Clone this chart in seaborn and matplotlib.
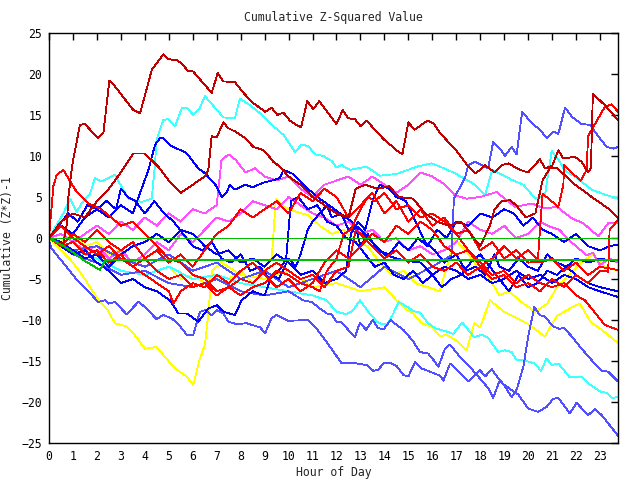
import matplotlib
matplotlib.use("Agg")
import matplotlib.pyplot as plt
import pandas as pd
import seaborn as sns

# ---------------- data (hour of day, cumulative value) ----------------
dr1_h = [0, 0.3, 0.6, 0.74, 0.81, 0.97, 1.29, 1.5, 2.03, 2.27, 2.52, 2.75, 3.52, 3.8, 4.29, 4.77, 4.98, 5.33, 5.54,
         5.79, 6.02, 6.79, 7.04, 7.28, 7.76, 8.15, 8.46, 9.02, 9.29, 9.53, 9.78, 10.06, 10.27, 10.52, 10.78, 11.03,
         11.28, 12.0, 12.26, 12.49, 12.77, 13.01, 13.26, 13.95, 14.51, 14.75, 15.0, 15.25, 15.79, 16.04, 16.32,
         16.67, 16.94, 17.5, 17.78, 17.99, 18.2, 18.6, 18.9, 19.17, 19.66, 20.0, 20.49, 20.7, 21.0, 21.26, 21.47,
         21.95, 22.23, 22.5, 22.62, 22.7, 23.2, 23.75]
dr1_v = [0, -0.5, -0.6, 1.6, 5.0, 8.9, 13.8, 13.9, 12.2, 12.8, 19.2, 18.5, 15.6, 15.2, 20.5, 22.4, 21.8, 21.7, 21.3,
         20.4, 20.3, 17.7, 20.1, 19.1, 19.0, 17.6, 16.6, 15.4, 15.9, 15.0, 15.3, 14.3, 13.9, 13.5, 16.7, 15.7,
         16.7, 13.9, 15.6, 14.6, 14.5, 13.6, 14.3, 12.1, 10.7, 10.2, 14.1, 13.2, 14.3, 14.0, 12.8,
         11.7, 10.9, 8.7, 7.9, 8.3, 8.9, 8.0, 8.9, 9.1, 8.3, 8.0, 9.6, 8.5, 8.8, 10.7, 9.7,
         9.9, 9.3, 8.0, 8.5, 17.6, 16.2, 14.4]

dr2_h = [0, 0.5, 1, 1.5, 2, 2.5, 3, 3.52, 4.0, 4.56, 5, 5.5, 6, 6.5, 6.65, 6.79, 7.0, 7.28, 7.48, 7.76, 8.18, 8.53,
         8.88, 9.09, 9.36, 9.64, 10, 10.5, 11, 11.5, 12, 12.5, 12.8, 13.2, 13.7, 14.2, 14.6, 15.2, 15.7, 16.2, 16.7,
         17.2, 17.6, 18.0, 18.4, 18.6, 18.9, 19.24, 19.5, 19.9, 20.3, 20.6, 20.9, 21.2, 21.6, 21.95, 22.3, 22.65,
         23.0, 23.34, 23.75]
dr2_v = [0, 2.0, 3.0, 2.5, 4.5, 6.0, 8.0, 10.3, 10.3, 8.7, 7.0, 5.5, 6.5, 7.5, 8.3, 12.4, 12.3, 14.1, 13.4, 13.0,
         12.2, 11.1, 10.8, 10.3, 9.3, 8.7, 7.5, 6.5, 5.0, 4.0, 3.0, 2.5, 6.0, 6.5, 6.0, 6.3, 5.0, 4.8, 3.0, 2.0,
         1.5, 2.0, 0.5, -1.0, 1.5, 3.5, 4.5, 4.6, 4.0, 2.5, 3.0, 7.0, 8.5, 8.5, 7.5, 6.5, 5.8, 5.0, 4.3, 3.6, 2.4]

rd1_h = [0, 0.18, 0.32, 0.6, 1.09, 1.64, 2.13, 2.6, 3.0, 3.5, 4.0, 4.5, 5.0, 5.5, 6.0, 6.5, 7.0, 7.5, 8, 8.5, 9.0,
         9.5, 10, 10.5, 11, 11.3, 11.6, 12, 12.3, 12.6, 13, 13.3, 13.6, 14, 14.5, 15, 15.5, 16, 16.5, 17, 17.5,
         18, 18.5, 19, 19.5, 20, 20.5, 21, 21.5, 22, 22.37, 23.2, 23.75]
rd1_v = [0, 6.3, 7.7, 8.3, 5.9, 4.2, 3.6, 2.5, 1.5, 2.0, 0.5, -1.0, -2.5, -3.0, -4.5, -5.0, -6.5, -6.0, -7.0, -6.0,
         -5.5, -4.0, -4.5, -5.5, -6.0, -6.5, -4.0, -2.5, 0.5, 1.0, 3.5, 5.0, 4.5, 5.5, 3.5, 4.0, 2.5, 3.0, 2.0,
         0.5, -1.5, -3.0, -4.5, -4.0, -5.5, -4.5, -5.5, -6.0, -5.5, -7.0, -7.6, -10.6, -11.2]

rd2_h = [0, 0.5, 1, 1.5, 2, 2.5, 3, 3.5, 4, 4.5, 5, 5.5, 6, 6.5, 7, 7.5, 8, 8.5, 9, 9.5, 10, 10.5, 11, 11.5, 12,
         12.5, 13, 13.5, 14, 14.5, 15, 15.5, 16, 16.5, 17, 17.5, 18, 18.5, 19, 19.5, 20, 20.4, 20.6, 21.26, 21.47,
         21.5, 21.8, 22.2, 22.44, 22.5, 22.65, 23.2, 23.48, 23.75]
rd2_v = [0, -1.0, 0.5, -0.5, 1.0, -0.5, -1.5, -0.5, -2.5, -1.5, -3.0, -2.0, -3.5, -1.5, 0.5, 1.5, 3.5, 2.5, 3.5,
         4.5, 3.0, 5.5, 4.5, 6.0, 5.0, 2.5, 4.0, 5.5, 3.0, 4.5, 2.0, 3.5, 1.5, 2.5, 0.5, 1.0, -1.5, -0.5, -2.5,
         -1.5, -3.0, -2.9, 5.4, 3.8, 6.5, 8.9, 8.0, 7.0, 8.3, 12.4, 13.2, 16.0, 16.3, 15.4]

rd3_h = [0, 0.5, 1, 1.5, 2, 2.5, 3, 3.5, 4, 4.5, 5, 5.5, 6, 6.5, 7, 7.5, 8, 8.5, 9, 9.5, 10, 10.5, 11, 11.5, 12,
         12.5, 12.8, 13, 13.5, 14, 14.5, 15, 15.5, 16, 16.5, 17, 17.5, 18, 18.5, 19, 19.5, 20, 20.5, 21, 21.5, 22,
         22.5, 23, 23.34, 23.4, 23.75]
rd3_v = [0, 1.5, 0, -1.0, -2.0, -1.0, -2.5, -3.5, -2.5, -4.0, -5.0, -4.5, -6.0, -5.5, -7.0, -6.0, -5.0, -5.5,
         -4.0, -3.0, -4.0, -5.0, -4.5, -6.0, -4.0, -3.5, 1.0, 0.5, -1.0, -2.5, -1.5, -3.0, -2.0, -3.5, -4.0, -3.0,
         -4.5, -3.5, -5.0, -4.5, -6.0, -5.5, -6.5, -5.0, -6.0, -4.5, -5.5, -4.0, -4.1, 1.0, 2.2]

rd4_h = [0, 0.5, 1, 1.5, 2, 2.5, 3, 3.5, 4, 4.5, 5, 5.2, 5.5, 6, 6.5, 7, 7.5, 8, 8.5, 9, 9.5, 10, 10.5, 11, 11.5,
         12, 12.5, 13, 13.5, 14, 14.5, 15, 15.5, 16, 16.5, 17, 17.5, 18, 18.5, 19, 19.5, 20, 20.5, 21, 21.5, 22,
         22.5, 23, 23.75]
rd4_v = [0, -1.0, -0.5, -2.0, -1.5, -3.0, -2.0, -3.5, -4.5, -5.5, -6.5, -8.0, -6.5, -5.5, -6.0, -4.5, -5.5, -4.0,
         -3.0, -4.5, -6.0, -5.0, -6.5, -5.5, -3.0, -1.5, -2.5, -1.0, 0.5, -0.5, 1.5, 0.5, 2.0, 1.0, -1.0, -2.0,
         -1.5, -3.5, -2.5, -1.0, -2.5, -1.5, -3.0, -2.5, -4.0, -3.0, -4.5, -3.5, -3.9]

cy1_h = [0, 0.3, 0.6, 0.88, 1.16, 1.36, 1.71, 1.92, 2.2, 2.75, 3.31, 3.87, 4.29, 4.42, 4.49, 4.77, 4.98, 5.26, 5.54,
         5.75, 6.02, 6.3, 6.51, 7.28, 7.76, 7.97, 8.39, 8.81, 9.22, 9.78, 10.27, 10.55, 10.82, 11.1, 11.45, 11.8,
         12.0, 12.2, 12.56, 13.26, 13.8, 14.5, 15.35, 15.97, 16.32, 16.94, 17.78, 18.2, 18.5, 18.8, 19.3, 19.8,
         20.3, 20.7, 20.98, 21.3, 21.54, 21.95, 22.65, 23.2, 23.75]
cy1_v = [0, 1.5, 3.0, 4.8, 3.2, 4.2, 5.4, 7.3, 6.9, 7.7, 4.8, 4.4, 4.8, 8.9, 12.0, 14.4, 14.5, 13.6, 15.8,
         15.9, 15.0, 15.9, 17.3, 14.7, 14.6, 17.0, 16.2, 15.2, 14.0, 12.6, 10.5, 11.4, 11.2, 10.2, 10.0, 9.4,
         8.6, 8.9, 8.3, 8.7, 7.6, 7.8, 8.7, 9.1, 8.7, 7.9, 6.5, 5.2, 8.3, 7.9, 7.1, 6.5,
         4.8, 5.2, 10.6, 9.4, 8.2, 7.5, 5.9, 5.3, 4.8]

cy2_h = [0, 1, 2, 3, 4, 5, 6, 7, 8, 9, 10, 11, 11.59, 12.0, 12.42, 12.7, 12.98, 13.33, 13.68, 13.88, 14.16,
         14.37, 14.6, 15.0, 15.2, 15.48, 15.8, 16.11, 16.6, 16.87, 17.25, 17.75, 18.06, 18.33, 18.75, 19.03,
         19.31, 19.52, 19.8, 20.28, 20.53, 20.77, 20.98, 21.26, 21.74, 22.23, 22.58, 23.0, 23.28, 23.49, 23.75]
cy2_v = [0, -1.5, -2.5, -4.0, -4.5, -3.5, -5.0, -4.5, -5.5, -6.0, -6.5, -7.0, -7.6, -9.0, -9.3, -8.8, -7.6, -9.0,
         -10.2, -10.5, -10.4, -9.2, -7.8, -8.5, -8.9, -9.1, -10.3, -11.0, -11.4, -11.7, -10.3, -12.1, -11.8,
         -12.2, -13.9, -13.7, -13.9, -14.9, -14.9, -15.3, -16.2, -14.7, -15.5, -15.3, -17.0, -16.9, -17.9,
         -18.7, -18.9, -19.5, -19.4]

bl1_h = [0, 0.5, 1, 1.5, 2, 2.5, 3, 3.5, 3.8, 4.15, 4.42, 4.63, 4.77, 5.05, 5.33, 5.61, 5.81, 6.02, 6.23, 6.51,
         7.0, 7.2, 7.42, 7.55, 7.76, 8.18, 8.5, 9.0, 9.3, 9.64, 9.78, 10.2, 10.76, 11.3, 11.87, 12.63, 13.0, 13.5,
         14.0, 14.5, 15.0, 15.5, 16.0, 16.5, 17.0, 17.5, 18, 18.5, 19, 19.5, 20, 20.5, 21, 21.5, 22, 22.5, 23,
         23.75]
bl1_v = [0, 1.5, 0.5, 2.5, 3.5, 2.5, 4.0, 3.0, 5.5, 8.3, 11.3, 12.2, 12.2, 11.3, 10.9, 10.6, 10.1, 9.3, 8.5, 7.9,
         6.3, 5.0, 5.6, 6.5, 5.9, 6.5, 6.2, 6.8, 7.0, 7.3, 8.3, 7.8, 6.1, 4.8, 3.6, 2.0, 1.0, -0.5, -2.0, -2.5,
         -2.8, -3.0, -4.5, -3.5, -4.0, -5.0, -4.5, -5.5, -5.0, -4.0, -5.0, -4.5, -5.5, -4.5, -5.0, -6.0, -6.5,
         -7.2]

bl2_h = [0, 0.5, 1, 1.5, 2, 2.5, 3, 3.5, 4, 4.5, 5.05, 5.4, 5.75, 6.23, 6.65, 7.0, 7.28, 7.76, 8.04, 8.5, 9.0,
         9.3, 9.6, 10.0, 10.3, 10.5, 10.8, 11.0, 11.3, 11.6, 11.8, 12.2, 12.5, 12.8, 13.0, 13.3, 13.7, 14.2, 14.6,
         15.0, 15.4, 15.8, 16.2, 16.6, 17.0, 17.5, 18.0, 18.5, 19.0, 19.4, 19.8, 20.2, 20.6, 21.0, 21.5, 22.0,
         22.5, 23.0, 23.4, 23.75]
bl2_v = [0, -1.0, -2.0, -1.5, -3.0, -4.0, -5.5, -5.0, -6.0, -6.5, -7.6, -9.2, -9.2, -10.2, -8.6, -8.2, -9.0, -9.4,
         -7.6, -6.5, -7.0, -4.5, -5.0, -2.5, -3.5, -2.0, 1.0, 2.0, 3.0, 4.0, 2.5, 3.0, 1.0, 1.5, -1.0, 0.5, -1.5,
         -2.0, -0.5, -1.5, 0.0, -1.0, 1.0, 0.0, 2.0, 1.5, 3.0, 2.5, 3.5, 3.0, 1.5, 2.5, 1.0, 0.5, -0.5, 0.5,
         -1.0, -1.5, -1.0, -0.8]

bl3_h = [0, 0.5, 1, 1.5, 2, 2.5, 3, 3.5, 4, 4.5, 5, 5.5, 6, 6.5, 7, 7.5, 8, 8.5, 9, 9.5, 10, 10.5, 11, 11.5, 12,
         12.4, 12.6, 12.9, 13.2, 13.5, 13.8, 14.2, 14.5, 14.9, 15.3, 15.7, 16.1, 16.5, 17, 17.4, 17.8, 18.2, 18.6,
         18.8, 19.2, 19.6, 20.0, 20.4, 20.8, 21.2, 21.6, 22.0, 22.5, 23.0, 23.5, 23.75]
bl3_v = [0, -0.5, -1.5, -2.5, -2.0, -3.5, -2.0, -1.0, -0.5, 0.5, -0.5, 1.0, 0.5, -1.0, -2.0, -1.5, -3.0, -2.5,
         -3.5, -2.0, -3.0, -4.5, -4.0, -5.5, -5.0, -4.0, 0.5, 2.0, 1.0, 4.5, 6.5, 6.0, 5.0, 4.5, 2.0, -0.5, -1.5,
         -3.0, -2.0, -4.0, -3.5, -4.5, -2.0, -3.5, -4.0, -2.5, -3.5, -4.0, -2.0, -3.0, -3.5, -2.5, -3.0, -2.5,
         -2.8, -2.7]

bl4_h = [0, 0.4, 0.8, 1.2, 1.6, 2.0, 2.4, 2.8, 3.0, 3.3, 3.6, 4.0, 4.4, 4.8, 5.2, 5.6, 6.0, 6.4, 6.8, 7.2, 7.6,
         8.0, 8.4, 8.8, 9.2, 9.6, 9.9, 10.1, 10.4, 10.8, 11.2, 11.6, 12.0, 12.4, 12.8, 13.2, 13.6, 14.0, 14.4,
         14.8, 15.2, 15.6, 16.0, 16.4, 16.8, 17.2, 17.6, 18.0, 18.4, 18.8, 19.2, 19.6, 20.0, 20.4, 20.8, 21.2,
         21.6, 22.0, 22.5, 23.0, 23.75]
bl4_v = [0, 1.5, 3.0, 2.0, 4.0, 3.5, 4.5, 3.5, 6.0, 5.0, 4.5, 3.0, 4.5, 3.0, 2.0, 0.5, -1.0, -1.5, -0.5, -2.5,
         -3.0, -2.0, -4.0, -3.5, -5.0, -4.0, -2.5, 4.5, 5.0, 3.5, 4.0, 2.0, 1.5, 0.0, -0.5, -2.0, -3.5, -3.0,
         -4.5, -5.0, -4.0, -5.5, -4.5, -6.0, -5.0, -4.5, -3.0, -2.0, -3.5, -5.0, -6.5, -4.5, -6.0, -5.5, -4.0,
         -4.5, -3.5, -4.5, -5.5, -6.0, -6.5]

sb1_h = [0, 1, 2, 3, 4, 5, 6, 7, 8, 9, 10, 11, 12, 13, 14, 15, 16, 16.8, 16.9, 17.1, 17.36, 17.5, 17.78, 18.06,
         18.33, 18.54, 18.82, 19.03, 19.31, 19.52, 19.75, 20.15, 20.49, 20.77, 21.05, 21.26, 21.54, 21.82, 22.23,
         22.58, 22.93, 23.28, 23.55, 23.75]
sb1_v = [0, -1.5, -1.0, -2.5, -3.5, -2.0, -4.0, -3.0, -5.0, -4.0, -6.0, -5.0, -4.0, -6.0, -3.5, -5.0, -3.5, -2.1,
         4.8, 5.9, 7.3, 8.9, 9.3, 8.9, 8.5, 11.7, 10.9, 10.0, 11.1, 10.2, 15.4, 14.0, 13.2, 12.2, 13.0, 12.7,
         15.9, 14.8, 13.9, 13.8, 12.4, 11.1, 10.9, 11.1]

sb2_h = [0, 1, 2, 3, 4, 5, 6, 7, 8, 9, 10, 10.61, 10.96, 11.31, 11.59, 11.8, 12.0, 12.22, 12.49, 12.77, 12.98,
         13.23, 13.51, 13.74, 13.98, 14.26, 14.51, 14.79, 15.2, 15.48, 15.83, 16.11, 16.25, 16.53, 16.74, 17.15,
         17.5, 17.92, 18.33, 18.54, 18.82, 19.03, 19.31, 19.52, 19.8, 20.0, 20.26, 20.49, 20.7, 21.05, 21.33,
         21.47, 21.82, 22.23, 22.65, 23.07, 23.34, 23.75]
sb2_v = [0, -2.0, -3.0, -4.5, -4.0, -5.5, -6.0, -5.0, -6.5, -7.0, -6.5, -7.6, -7.8, -8.6, -9.2, -9.3, -10.2,
         -10.3, -11.2, -12.1, -10.3, -11.2, -10.0, -11.0, -11.1, -10.0, -10.6, -11.2, -12.6, -13.9, -14.1, -15.1,
         -15.7, -13.5, -13.0, -14.5, -15.5, -16.9, -18.3, -19.5, -17.3, -18.1, -19.4, -18.5, -15.7, -12.0, -8.4,
         -9.4, -9.6, -10.8, -11.1, -10.9, -12.0, -13.5, -14.9, -16.2, -16.3, -17.5]

sb3_h = [0, 0.11, 0.67, 1.22, 1.64, 2.05, 2.34, 2.48, 2.75, 3.24, 3.73, 4.0, 4.49, 4.77, 5.12, 5.4, 5.75, 6.02,
         6.3, 6.51, 6.79, 7.0, 7.28, 7.48, 7.83, 8.25, 8.81, 9.02, 9.29, 9.5, 9.99, 10.82, 11.1, 11.52, 12.22,
         12.63, 13.26, 13.54, 13.74, 13.95, 14.23, 14.51, 14.79, 15.0, 15.28, 15.55, 15.9, 16.32, 16.46, 16.74,
         17.5, 17.99, 18.2, 18.48, 18.9, 19.59, 20.0, 20.42, 20.77, 21.05, 21.26, 21.74, 22.02, 22.5, 22.79,
         23.07, 23.34, 23.75]
sb3_v = [-0.3, -1.3, -3.3, -5.3, -6.5, -7.8, -7.6, -8.0, -7.8, -9.3, -7.8, -8.4, -9.9, -9.4, -9.8, -10.5, -11.8,
         -11.8, -9.0, -8.8, -9.4, -8.8, -9.2, -10.2, -10.5, -10.4, -10.9, -11.6, -9.8, -9.4, -10.1, -10.0, -10.8,
         -12.4, -15.3, -15.2, -15.5, -16.2, -16.1, -15.3, -15.2, -15.6, -16.7, -16.9, -15.1, -15.9, -16.3, -16.8,
         -17.4, -15.3, -17.5, -16.1, -16.9, -16.0, -17.7, -19.1, -20.8, -21.2, -20.6, -19.6, -19.5, -21.4, -20.1,
         -21.6, -20.9, -21.6, -22.6, -24.1]

mg1_h = [0, 0.5, 1, 1.5, 2, 2.5, 3, 3.5, 4, 4.5, 5, 5.5, 6, 6.5, 7, 7.2, 7.5, 7.8, 8.2, 8.6, 9, 9.5, 10, 10.5, 11,
         11.5, 12, 12.5, 13, 13.5, 14, 14.5, 15, 15.5, 16, 16.53, 16.94, 17.43, 18, 18.68, 19.45, 20.15, 20.7,
         21.2, 21.82, 22.3, 22.93, 23.34, 23.75]
mg1_v = [0, 0.5, -0.5, 0.5, 1.5, 0.5, 2.0, 1.0, 2.5, 1.5, 3.0, 2.0, 3.5, 3.0, 4.0, 9.5, 10.2, 9.5, 8.0, 8.5, 7.5,
         7.0, 7.5, 6.0, 5.0, 6.5, 7.0, 7.5, 6.5, 7.5, 6.5, 5.5, 6.5, 8.0, 7.5, 6.5, 5.2, 4.8, 5.0, 5.6, 3.8, 4.2,
         3.6, 3.8, 2.4, 1.8, 0.2, 1.8, 1.8]

mg2_h = [0, 0.5, 1, 1.5, 2, 2.5, 3, 3.5, 4, 4.5, 5, 5.5, 6, 6.5, 7, 7.5, 8, 8.5, 9, 9.5, 10, 10.5, 11, 11.5, 12,
         12.5, 13, 13.5, 14, 14.5, 15, 15.5, 16, 16.5, 17, 17.5, 18, 18.5, 19, 19.5, 20, 20.5, 20.9, 21.3, 21.8,
         22.44, 22.7, 23.0, 23.4, 23.75]
mg2_v = [0, -1.0, -0.5, -1.5, -1.0, -2.5, -1.5, -3.0, -2.0, -0.5, -1.5, 0.5, -0.5, 1.0, 2.5, 2.0, 3.0, 4.5, 4.0,
         3.5, 5.0, 4.0, 3.0, 2.5, 1.5, 2.0, 0.5, 1.0, -0.5, 0.0, -1.5, -1.0, -2.0, -1.5, -0.5, 2.0, 1.0, 0.5,
         1.5, 0.0, 0.5, 2.0, 1.4, 1.0, -0.5, -2.1, -1.8, -3.3, -2.5, -3.0]

ye1_h = [0, 1, 1.5, 2.06, 2.41, 2.75, 3.24, 3.52, 4.0, 4.49, 4.84, 5.26, 5.75, 6.02, 6.3, 6.51, 6.65, 6.8, 7.2,
         8, 9, 10, 11, 12, 13, 14, 14.51, 14.93, 15.2, 15.55, 15.97, 16.32, 16.6, 17.0, 17.43, 17.75, 18.0,
         18.4, 19, 20, 20.7, 21.2, 21.8, 22.16, 22.6, 23.2, 23.75]
ye1_v = [0, -3.0, -5.0, -7.6, -8.6, -10.4, -10.8, -11.6, -13.5, -13.3, -14.5, -15.9, -16.9, -17.9, -14.7, -13.0,
         -9.2, -4.0, -3.0, -4.5, -5.0, -4.0, -6.0, -5.5, -6.5, -6.0, -7.6, -8.7, -9.2, -10.4, -10.8, -12.0,
         -11.8, -12.5, -13.7, -10.4, -10.9, -7.6, -9.0, -10.5, -12.0, -9.5, -8.5, -8.0, -10.2, -11.5, -12.8]

ye2_h = [0, 0.5, 1, 1.5, 2, 2.5, 3, 3.5, 4, 4.5, 5, 5.5, 6, 6.5, 7, 7.5, 8, 8.5, 9, 9.3, 9.47, 9.8, 10.3, 10.8,
         11.3, 11.8, 12.3, 12.8, 13.3, 13.8, 14.3, 14.8, 15.3, 15.8, 16.3, 16.94, 17.4, 17.92, 18.4, 18.8, 19.2,
         19.8, 20.3, 20.8, 21.2, 21.7, 22.2, 22.7, 23.2, 23.75]
ye2_v = [0, -0.5, 0.5, -1.0, -0.5, -2.0, -1.5, -3.0, -2.5, -4.0, -3.5, -5.0, -4.5, -5.5, -4.5, -5.0, -4.0, -5.5,
         -3.5, -2.4, 4.8, 3.8, 3.2, 2.8, 1.5, 0.5, 1.0, -0.5, -1.0, -3.0, -4.5, -4.0, -5.5, -6.0, -6.5, -0.2,
         -1.5, -3.7, -5.0, -7.0, -6.5, -8.0, -9.0, -8.0, -6.0, -4.5, -3.0, -2.0, -3.5, -4.0]

gr1_h = [0, 23.75]
gr1_v = [0, 0]
gr2_h = [0, 0.5, 0.88, 1.5, 2.13, 2.34, 23.75]
gr2_v = [0, -0.8, -1.5, -2.8, -3.9, -2.7, -2.7]

DARKRED, RED, CYAN, BLUE, SLATE, MAGENTA, YELLOW, GREEN = (
    "#c00000", "#ff0000", "#40ffff", "#0000ff", "#5050ff", "#ff50ff", "#ffff00", "#00c000")

series = [
    ("ye2", YELLOW, ye2_h, ye2_v),
    ("ye1", YELLOW, ye1_h, ye1_v),
    ("cy2", CYAN, cy2_h, cy2_v),
    ("cy1", CYAN, cy1_h, cy1_v),
    ("mg2", MAGENTA, mg2_h, mg2_v),
    ("mg1", MAGENTA, mg1_h, mg1_v),
    ("sb1", SLATE, sb1_h, sb1_v),
    ("sb2", SLATE, sb2_h, sb2_v),
    ("sb3", SLATE, sb3_h, sb3_v),
    ("bl4", BLUE, bl4_h, bl4_v),
    ("bl3", BLUE, bl3_h, bl3_v),
    ("bl2", BLUE, bl2_h, bl2_v),
    ("bl1", BLUE, bl1_h, bl1_v),
    ("rd4", RED, rd4_h, rd4_v),
    ("rd3", RED, rd3_h, rd3_v),
    ("rd2", RED, rd2_h, rd2_v),
    ("rd1", RED, rd1_h, rd1_v),
    ("dr2", DARKRED, dr2_h, dr2_v),
    ("dr1", DARKRED, dr1_h, dr1_v),
    ("gr1", GREEN, gr1_h, gr1_v),
    ("gr2", GREEN, gr2_h, gr2_v),
]

frames = []
for name, col, h, v in series:
    frames.append(pd.DataFrame({"hour": h, "value": v, "series": name}))
df = pd.concat(frames, ignore_index=True)
palette = {name: col for name, col, _, _ in series}
order = [name for name, _, _, _ in series]

sns.set_theme(style="white")
plt.rcParams["font.family"] = ["DejaVu Sans Mono", "DejaVu Sans"]

fig = plt.figure(figsize=(6.4, 4.8), dpi=100)
ax = fig.add_axes([49 / 640, 1 - 443 / 480, (618 - 49) / 640, (443 - 33) / 480])

sns.lineplot(data=df, x="hour", y="value", hue="series", hue_order=order, palette=palette,
             estimator=None, sort=False, legend=False, ax=ax, linewidth=0.6)
for ln in ax.lines:
    ln.set_antialiased(False)

ax.set_xlim(0, 23.75)
ax.set_ylim(-25, 25)
ax.set_xticks(range(24))
ax.set_yticks(range(-25, 26, 5))
ax.tick_params(direction="in", top=True, right=True, length=5, width=1, labelsize=8.3,
               colors="black", pad=5)
for s in ax.spines.values():
    s.set_color("black")
    s.set_linewidth(1)
ax.set_xlabel("Hour of Day", fontsize=8.3, labelpad=2)
ax.set_ylabel("Cumulative (Z*Z)-1", fontsize=8.3, labelpad=5)
ax.set_title("Cumulative Z-Squared Value", fontsize=8.3, pad=9)
ax.grid(False)

fig.savefig("out.png", dpi=100)
